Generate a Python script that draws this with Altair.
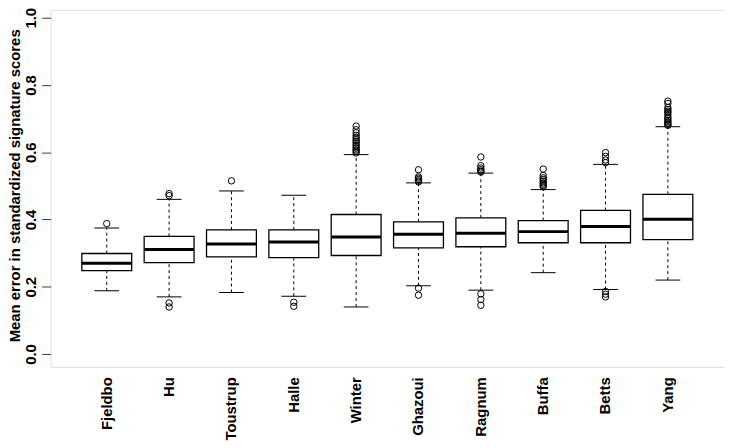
import altair as alt
import pandas as pd

categories = ["Fjeldbo", "Hu", "Toustrup", "Halle", "Winter",
              "Ghazoui", "Ragnum", "Buffa", "Betts", "Yang"]
lower_whisker = [0.188, 0.170, 0.183, 0.172, 0.140, 0.203, 0.190, 0.242, 0.192, 0.220]
q1 = [0.248, 0.272, 0.289, 0.287, 0.293, 0.316, 0.319, 0.331, 0.331, 0.340]
median = [0.270, 0.311, 0.327, 0.333, 0.348, 0.356, 0.359, 0.364, 0.379, 0.401]
q3 = [0.299, 0.350, 0.369, 0.369, 0.415, 0.393, 0.405, 0.397, 0.427, 0.475]
upper_whisker = [0.375, 0.460, 0.485, 0.472, 0.593, 0.509, 0.538, 0.489, 0.564, 0.676]
outliers = [
    [0.388],
    [0.471, 0.477, 0.152, 0.140],
    [0.515],
    [0.154, 0.142],
    [0.598, 0.603, 0.607, 0.612, 0.617, 0.622, 0.628, 0.633, 0.638, 0.644,
     0.650, 0.658, 0.667, 0.678],
    [0.512, 0.515, 0.519, 0.523, 0.527, 0.548, 0.196, 0.175],
    [0.541, 0.544, 0.548, 0.553, 0.560, 0.586, 0.179, 0.162, 0.145],
    [0.497, 0.501, 0.505, 0.509, 0.514, 0.519, 0.524, 0.531, 0.550],
    [0.569, 0.577, 0.588, 0.599, 0.186, 0.178, 0.170],
    [0.680, 0.683, 0.687, 0.691, 0.695, 0.700, 0.705, 0.712, 0.718, 0.722,
     0.727, 0.733, 0.745, 0.752],
]
y_ticks = [0.0, 0.2, 0.4, 0.6, 0.8, 1.0]
y_title = "Mean error in standardized signature scores"

box_df = pd.DataFrame({
    "cat": categories, "lower": lower_whisker, "q1": q1, "median": median,
    "q3": q3, "upper": upper_whisker,
})
out_rows = [{"cat": c, "value": v} for c, vals in zip(categories, outliers) for v in vals]
out_df = pd.DataFrame(out_rows)

FONT = "Liberation Sans"
FRAME = "#3a3a3a"

x_enc = alt.X("cat:N", sort=categories,
              scale=alt.Scale(paddingInner=0.2, paddingOuter=0.5),
              axis=alt.Axis(title=None, labelAngle=270, labelAlign="right",
                            labelBaseline="middle", labelPadding=10, ticks=False,
                            domain=False, labelFont=FONT, labelFontSize=15,
                            labelFontWeight="bold", labelColor="black"))
y_scale = alt.Scale(domain=[-0.038, 1.0236], nice=False, zero=False)
y_axis = alt.Axis(title=y_title, values=y_ticks, format=".1f", grid=False,
                  domain=False, tickColor=FRAME, tickSize=9, tickWidth=1,
                  labelAngle=270, labelAlign="center", labelBaseline="alphabetic",
                  labelPadding=6, labelOverlap=False, labelFont=FONT,
                  labelFontSize=15, labelFontWeight="bold", labelColor="black",
                  titleFont=FONT, titleFontSize=15, titleFontWeight="bold",
                  titleColor="black", titleAngle=270, titleAlign="center",
                  titleBaseline="alphabetic", titleX=-31, titleY=177)


def Y(field):
    return alt.Y(f"{field}:Q", scale=y_scale, axis=y_axis)


base = alt.Chart(box_df)

whisk_up = base.mark_rule(color="black", strokeWidth=1, strokeDash=[3, 3]).encode(
    x=x_enc, y=Y("q3"), y2="upper:Q")
whisk_lo = base.mark_rule(color="black", strokeWidth=1, strokeDash=[3, 3]).encode(
    x=x_enc, y=Y("lower"), y2="q1:Q")
cap_up = base.mark_tick(color="black", size=25, thickness=1, opacity=1).encode(
    x=x_enc, y=Y("upper"))
cap_lo = base.mark_tick(color="black", size=25, thickness=1, opacity=1).encode(
    x=x_enc, y=Y("lower"))
box = base.mark_bar(fill="white", stroke="black", strokeWidth=1.3, opacity=1).encode(
    x=x_enc, y=Y("q1"), y2="q3:Q")
med = base.mark_tick(color="black", size=50, thickness=3, opacity=1).encode(
    x=x_enc, y=Y("median"))
pts = alt.Chart(out_df).mark_point(shape="circle", filled=False, color="black",
                                   size=42, strokeWidth=1, opacity=1).encode(
    x=x_enc, y=Y("value"))

chart = alt.layer(whisk_up, whisk_lo, box, med, cap_up, cap_lo, pts).properties(
    width=679, height=360,
    autosize=alt.AutoSizeParams(type="none"),
    padding={"left": 43, "top": 0, "right": 0, "bottom": 77},
).configure_view(stroke=FRAME, strokeWidth=1.2).configure(background="white")

chart.save("out.html", embed_options={"renderer": "svg", "actions": False})
